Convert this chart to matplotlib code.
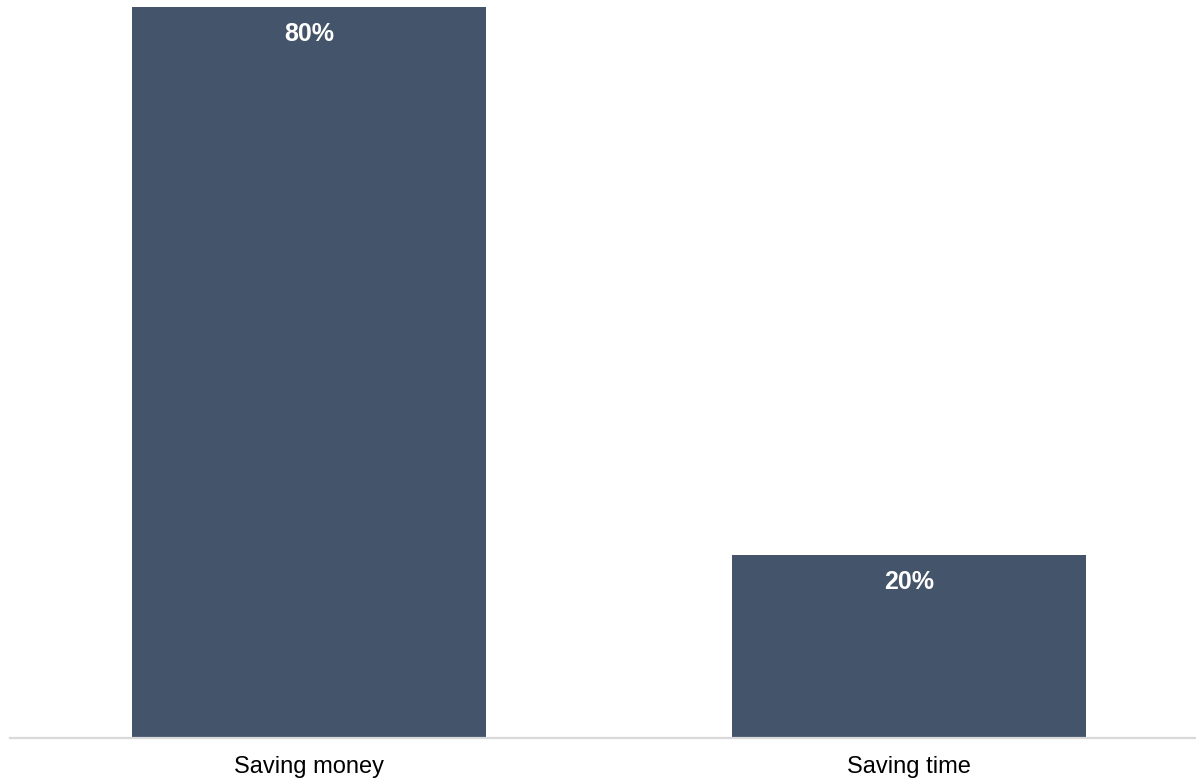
import matplotlib.pyplot as plt

categories = ['Saving money', 'Saving time']
shares = [80, 20]

bar_color = '#44546A'

plt.rcParams['font.family'] = ['Liberation Sans', 'DejaVu Sans']

fig = plt.figure(figsize=(11.96, 7.81), dpi=100)
ax = fig.add_axes([10 / 1196, 43 / 781, 1186 / 1196, 738 / 781])

x = range(len(categories))
bars = ax.bar(x, shares, width=0.59, color=bar_color, zorder=2)

for b, v in zip(bars, shares):
    ax.text(b.get_x() + b.get_width() / 2, v - 2.95, f'{v}%',
            ha='center', va='center', color='white',
            fontsize=18, fontweight='bold')

ax.set_xlim(-0.4983, 1.478)
ax.set_ylim(0, 80 * 738 / 731)

ax.set_xticks(list(x))
ax.set_xticklabels(categories, fontsize=17, color='#000000')
ax.tick_params(axis='x', length=0, pad=13)
ax.set_yticks([])

for side in ['top', 'right', 'left']:
    ax.spines[side].set_visible(False)
ax.spines['bottom'].set_color('#d9d9d9')
ax.spines['bottom'].set_linewidth(1.6)

fig.savefig('out.png', dpi=100)
